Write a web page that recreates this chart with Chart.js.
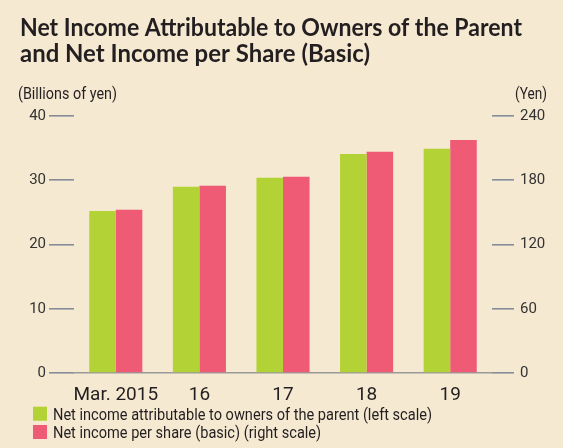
<!DOCTYPE html>
<html>
<head>
<meta charset="utf-8">
<script src="https://cdn.jsdelivr.net/npm/chart.js@4/dist/chart.umd.min.js"></script>
<style>
  html, body { margin: 0; padding: 0; background: #f6e9d2; }
  canvas { display: block; }
</style>
</head>
<body>
<canvas id="c" width="563" height="448"></canvas>
<script>
// ---- data ----
const categories = ['Mar. 2015', '16', '17', '18', '19'];
const netIncome = [25.2, 29.0, 30.4, 34.1, 34.9];              // billions of yen (left scale)
const netIncomePerShare = [152.4, 174.8, 183.2, 206.5, 217.7]; // yen (right scale)
const leftTicks = [0, 10, 20, 30, 40];
const rightTicks = [0, 60, 120, 180, 240];
const seriesNames = [
  'Net income attributable to owners of the parent (left scale)',
  'Net income per share (basic) (right scale)'
];
const titleLines = ['Net Income Attributable to Owners of the Parent', 'and Net Income per Share (Basic)'];
const leftUnit = '(Billions of yen)';
const rightUnit = '(Yen)';

const GREEN = '#b2d235';
const PINK = '#ef5a74';
const TEXT = '#231f20';
const TICKCOL = '#868d9a';

function fitText(ctx, text, x, y, targetW, align) {
  const w = ctx.measureText(text).width;
  const sx = targetW / w;
  ctx.save();
  ctx.translate(x, y);
  ctx.scale(sx, 1);
  ctx.textAlign = align || 'left';
  ctx.fillText(text, 0, 0);
  ctx.restore();
  return sx;
}

const decor = {
  id: 'decor',
  beforeDraw(chart) {
    const ctx = chart.ctx;
    ctx.save();
    ctx.fillStyle = '#f6e9d2';
    ctx.fillRect(0, 0, chart.width, chart.height);
    ctx.restore();
  },
  afterDraw(chart) {
    const ctx = chart.ctx;
    ctx.save();
    ctx.fillStyle = TEXT;
    ctx.textBaseline = 'alphabetic';
    // title
    ctx.font = 'bold 24px Lato';
    fitText(ctx, titleLines[0], 20, 36, 502);
    fitText(ctx, titleLines[1], 20, 61.5, 350);
    // units
    ctx.font = '16px Roboto';
    fitText(ctx, leftUnit, 18, 99, 99);
    fitText(ctx, rightUnit, 547, 99, 32, 'right');
    // legend
    const ds = chart.data.datasets;
    ctx.font = '17px Roboto';
    const w0 = ctx.measureText(ds[0].label).width;
    const sx = 379 / w0;
    const rows = [413.7, 432];
    ds.forEach((d, i) => {
      ctx.fillStyle = d.backgroundColor;
      ctx.fillRect(33, rows[i] - 7, 14, 14);
      ctx.fillStyle = TEXT;
      ctx.save();
      ctx.translate(53, rows[i] + 6.3);
      ctx.scale(sx, 1);
      ctx.fillText(d.label, 0, 0);
      ctx.restore();
    });
    ctx.restore();
  }
};

new Chart(document.getElementById('c'), {
  type: 'bar',
  data: {
    labels: categories,
    datasets: [
      { label: seriesNames[0], data: netIncome, backgroundColor: GREEN, yAxisID: 'y', barPercentage: 1, categoryPercentage: 0.635 },
      { label: seriesNames[1], data: netIncomePerShare, backgroundColor: PINK, yAxisID: 'y1', barPercentage: 1, categoryPercentage: 0.635 }
    ]
  },
  options: {
    responsive: false,
    animation: false,
    devicePixelRatio: 1,
    layout: { padding: { top: 116, left: 0, right: 0, bottom: 0 } },
    plugins: { legend: { display: false }, title: { display: false }, tooltip: { enabled: false } },
    scales: {
      x: {
        grid: { display: false },
        border: { display: true, color: '#9a9a9a', width: 1.5 },
        ticks: { color: TEXT, font: { family: 'Roboto', size: 19 }, padding: 3, maxRotation: 0, autoSkip: false },
        afterFit(scale) { scale.height = 75; }
      },
      y: {
        position: 'left',
        min: 0, max: 40,
        afterBuildTicks(scale) { scale.ticks = leftTicks.map(v => ({ value: v })); },
        grid: { drawOnChartArea: false, drawTicks: true, tickLength: 25, color: TICKCOL, lineWidth: 1.6 },
        border: { display: false },
        ticks: { color: '#333', font: { family: 'Roboto', size: 15 }, padding: 3 },
        afterFit(scale) { scale.width = 74; }
      },
      y1: {
        position: 'right',
        min: 0, max: 240,
        afterBuildTicks(scale) { scale.ticks = rightTicks.map(v => ({ value: v })); },
        grid: { drawOnChartArea: false, drawTicks: true, tickLength: 22, color: TICKCOL, lineWidth: 1.6 },
        border: { display: false },
        ticks: { color: '#333', font: { family: 'Roboto', size: 15 }, padding: 6 },
        afterFit(scale) { scale.width = 71; }
      }
    }
  },
  plugins: [decor]
});
</script>
</body>
</html>
